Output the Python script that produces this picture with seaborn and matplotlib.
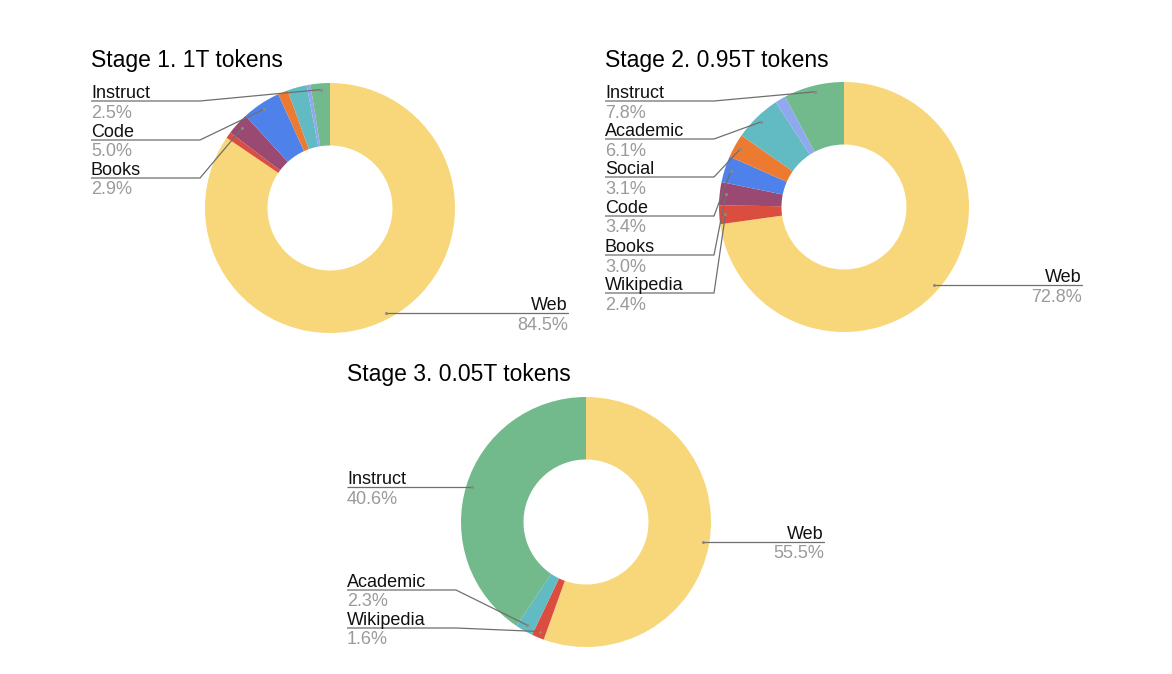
import numpy as np
import matplotlib
matplotlib.use("Agg")
import matplotlib.pyplot as plt
import seaborn as sns

sns.set_theme(style="white")
plt.rcParams['font.family'] = ['Liberation Sans', 'DejaVu Sans']

# ---- data ----
categories = ["Web", "Wikipedia", "Books", "Code", "Social", "Academic", "Other", "Instruct"]
stage1_values = [84.5, 0.8, 2.9, 5.0, 1.3, 2.5, 0.5, 2.5]
stage2_values = [72.8, 2.4, 3.0, 3.4, 3.1, 6.1, 1.4, 7.8]
stage3_values = [55.5, 1.6, 0.0, 0.0, 0.0, 2.3, 0.0, 40.6]
stage_titles = ["Stage 1. 1T tokens", "Stage 2. 0.95T tokens", "Stage 3. 0.05T tokens"]
stage1_labeled = ["Instruct", "Code", "Books"]
stage2_labeled = ["Instruct", "Academic", "Social", "Code", "Books", "Wikipedia"]
stage3_labeled = ["Instruct", "Academic", "Wikipedia"]

colors = ["#F7D77A", "#DB4D3E", "#9A4A72", "#4F81EA", "#EC7A30",
          "#62BAC2", "#8FA8EE", "#72B98B"]

W, H = 1172, 674
fig = plt.figure(figsize=(W / 100, H / 100), dpi=100)
over = fig.add_axes([0, 0, 1, 1], zorder=5)
over.set_xlim(0, W)
over.set_ylim(H, 0)
over.axis("off")
over.patch.set_alpha(0)

R = 125
layouts = [
    dict(c=(330, 208), title=(91, 60), lx=91, ly=[101, 140, 178], rx=568),
    dict(c=(844, 207), title=(605, 60), lx=605, ly=[101, 139, 177, 216, 255, 293], rx=1082),
    dict(c=(586, 522), title=(347, 375), lx=347, ly=[487, 590, 628], rx=824),
]
all_values = [stage1_values, stage2_values, stage3_values]
all_labeled = [stage1_labeled, stage2_labeled, stage3_labeled]

line_col = "#6f6f6f"
pct_col = "#9a9a9a"
fs = 13

for vals, labeled, lay, title in zip(all_values, all_labeled, layouts, stage_titles):
    cx, cy = lay["c"]
    ax = fig.add_axes([(cx - R) / W, 1 - (cy + R) / H, 2 * R / W, 2 * R / H])
    ax.pie(vals, colors=colors, startangle=90, counterclock=False,
           wedgeprops=dict(width=0.5, linewidth=0), radius=1.0)
    ax.set_xlim(-1, 1)
    ax.set_ylim(-1, 1)
    ax.set_aspect("equal")
    ax.axis("off")

    over.text(lay["title"][0], lay["title"][1], title, fontsize=16.5, color="black",
              ha="left", va="center")

    total = sum(vals)
    cum = np.cumsum([0] + list(vals))
    mids = {}
    for cat, a0, v in zip(categories, cum[:-1], vals):
        frac_mid = (a0 + v / 2) / total
        ang = np.deg2rad(90 - 360 * frac_mid)
        mids[cat] = (cx + 0.95 * R * np.cos(ang), cy - 0.95 * R * np.sin(ang))

    # left labels
    for cat, uy in zip(labeled, lay["ly"]):
        v = vals[categories.index(cat)]
        dx, dy = mids[cat]
        bx = lay["lx"] + 109
        if abs(dy - uy) < 3 and dx > bx:
            xs, ys = [lay["lx"], dx], [uy, uy]
        else:
            xs, ys = [lay["lx"], bx, dx], [uy, uy, dy]
        over.plot(xs, ys, color=line_col, lw=0.9, solid_capstyle="butt")
        over.plot([dx], [dy], "o", ms=2.2, color="#8a8a8a", mec="none")
        over.text(lay["lx"], uy - 3, cat, fontsize=fs, color="#111111", ha="left", va="baseline")
        over.text(lay["lx"], uy + 3.5, f"{v:.1f}%", fontsize=fs, color=pct_col, ha="left", va="top")

    # right label (Web)
    v = vals[0]
    dx, dy = mids["Web"]
    uy = round(dy)
    over.plot([dx, lay["rx"]], [uy, uy], color=line_col, lw=0.9)
    over.plot([dx], [uy], "o", ms=2.2, color="#8a8a8a", mec="none")
    over.text(lay["rx"], uy - 3, "Web", fontsize=fs, color="#111111", ha="right", va="baseline")
    over.text(lay["rx"], uy + 3.5, f"{v:.1f}%", fontsize=fs, color=pct_col, ha="right", va="top")

fig.savefig("out.png", dpi=100, facecolor="white")
